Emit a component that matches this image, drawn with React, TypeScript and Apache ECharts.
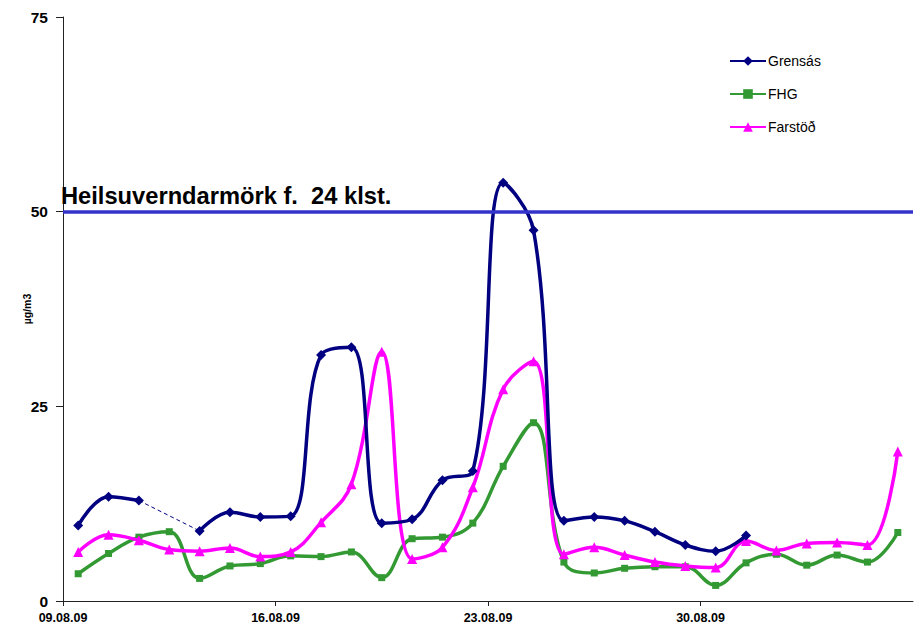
import React, { useEffect, useRef } from "react";
import * as echarts from "echarts";

const dates = [
  "09.08.09", "10.08.09", "11.08.09", "12.08.09", "13.08.09", "14.08.09", "15.08.09",
  "16.08.09", "17.08.09", "18.08.09", "19.08.09", "20.08.09", "21.08.09", "22.08.09",
  "23.08.09", "24.08.09", "25.08.09", "26.08.09", "27.08.09", "28.08.09", "29.08.09",
  "30.08.09", "31.08.09", "01.09.09", "02.09.09", "03.09.09", "04.09.09", "05.09.09",
];
const xTickLabels = ["09.08.09", "16.08.09", "23.08.09", "30.08.09"];
const yTicks = [0, 25, 50, 75];

const grensas: (number | null)[] = [
  9.7, 13.4, 12.9, null, 9.0, 11.4, 10.8, 10.9, 31.6, 32.6, 10.0, 10.5, 15.5, 16.7,
  53.7, 47.6, 10.3, 10.8, 10.3, 8.9, 7.2, 6.4, 8.4, null, null, null, null, null,
];
const fhg: number[] = [
  3.5, 6.1, 8.2, 8.9, 2.9, 4.5, 4.8, 5.8, 5.7, 6.3, 3.0, 8.0, 8.2, 10.0,
  17.3, 22.9, 5.0, 3.6, 4.2, 4.4, 4.4, 2.0, 4.9, 6.0, 4.6, 5.9, 5.0, 8.8,
];
const farstod: number[] = [
  6.3, 8.5, 7.8, 6.6, 6.4, 6.8, 5.7, 6.3, 10.1, 15.0, 32.0, 5.4, 6.9, 14.6,
  27.2, 30.8, 6.0, 6.9, 5.9, 5.0, 4.5, 4.3, 7.7, 6.5, 7.4, 7.5, 7.2, 19.2,
];
const limitValue = 50;
const limitLabel = "Heilsuverndarmörk f.  24 klst.";

const toXY = (arr: (number | null)[]) =>
  arr.map((v, i) => [i + 0.5, v === null ? null : v]);

// dashed connector across the missing Grensás value
const gapIdx = grensas.findIndex((v, i) => i > 0 && v === null && grensas[i - 1] !== null);
const gapData = [
  [gapIdx - 1 + 0.5, grensas[gapIdx - 1]],
  [gapIdx + 1 + 0.5, grensas[gapIdx + 1]],
];

export default function App() {
  const ref = useRef<HTMLDivElement>(null);
  useEffect(() => {
    if (!ref.current) return;
    const chart = echarts.init(ref.current, null, { renderer: "svg" });
    const font = "Arial, 'Liberation Sans', sans-serif";
    chart.setOption({
      animation: false,
      backgroundColor: "#ffffff",
      textStyle: { fontFamily: font },
      grid: { left: 63, right: 2, top: 17, bottom: 33, containLabel: false },
      legend: {
        orient: "vertical",
        left: 724,
        top: 49,
        itemWidth: 36,
        itemHeight: 12,
        itemGap: 19,
        data: ["Grensás", "FHG", "Farstöð"],
        textStyle: { fontFamily: font, fontSize: 14, color: "#000", padding: [0, 0, 0, -3] },
      },
      xAxis: {
        type: "value",
        min: 0,
        max: dates.length,
        interval: 7,
        axisLine: { show: true, lineStyle: { color: "#222", width: 1 } },
        axisTick: { show: true, length: 5, inside: false, lineStyle: { color: "#222" } },
        splitLine: { show: false },
        axisLabel: {
          showMaxLabel: false,
          fontFamily: font,
          fontSize: 12.5,
          fontWeight: "bold",
          color: "#000",
          margin: 10,
          formatter: (v: number) => xTickLabels[Math.round(v / 7)] ?? "",
        },
      },
      yAxis: {
        type: "value",
        min: yTicks[0],
        max: yTicks[yTicks.length - 1],
        interval: 25,
        name: "µg/m3",
        nameLocation: "middle",
        nameGap: 31,
        nameMoveOverlap: false,
        nameRotate: 90,
        nameTextStyle: { fontFamily: font, fontSize: 10.5, fontWeight: "bold", color: "#000" },
        axisLine: { show: true, lineStyle: { color: "#222", width: 1 } },
        axisTick: { show: true, length: 7, inside: false, lineStyle: { color: "#222" } },
        splitLine: { show: false },
        axisLabel: {
          fontFamily: font,
          fontSize: 15.5,
          fontWeight: "bold",
          color: "#000",
          margin: 15,
        },
      },
      series: [
        {
          name: "Grensás",
          type: "line",
          data: toXY(grensas),
          connectNulls: false,
          smooth: 0.4,
          symbol: "diamond",
          symbolSize: 10,
          lineStyle: { color: "#000080", width: 3.5 },
          itemStyle: { color: "#000080" },
          z: 4,
          markLine: {
            silent: true,
            symbol: "none",
            data: [{ yAxis: limitValue }],
            lineStyle: { color: "#3333cc", width: 3.5, type: "solid" },
            label: {
              show: true,
              position: "insideStartTop",
              formatter: () => limitLabel,
              fontFamily: font,
              fontSize: 23.7,
              fontWeight: "bold",
              color: "#000",
              distance: [-2, 4],
            },
          },
        },
        {
          name: "Grensás gap",
          type: "line",
          data: gapData,
          symbol: "none",
          lineStyle: { color: "#000080", width: 1, type: [4, 3] },
          z: 3,
        },
        {
          name: "FHG",
          type: "line",
          data: toXY(fhg),
          smooth: 0.4,
          symbol: "rect",
          symbolSize: 7,
          lineStyle: { color: "#339933", width: 3.5 },
          itemStyle: { color: "#339933" },
          z: 2,
        },
        {
          name: "Farstöð",
          type: "line",
          data: toXY(farstod),
          smooth: 0.4,
          symbol: "triangle",
          symbolSize: 10,
          lineStyle: { color: "#ff00ff", width: 3.5 },
          itemStyle: { color: "#ff00ff" },
          z: 3,
        },
      ],
    });
    return () => chart.dispose();
  }, []);
  return <div ref={ref} style={{ width: 915, height: 634, position: "absolute", left: 0, top: 0 }} />;
}
